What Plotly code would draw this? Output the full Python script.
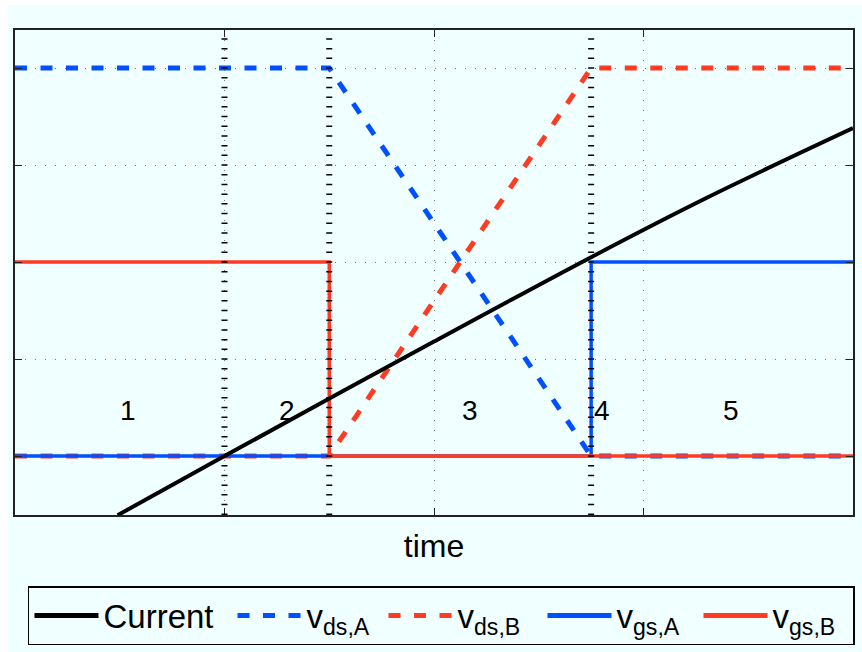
import plotly.graph_objects as go

# Switching waveforms of a half-bridge commutation (arbitrary units)
t_grid = [1.0, 2.0, 3.0]
v_grid = [0, 1, 2, 3, 4]

vds_A_t = [0.0, 1.5, 2.75, 4.0]
vds_A = [4.0, 4.0, 0.0, 0.0]

vds_B_t = [0.0, 1.5, 2.75, 4.0]
vds_B = [0.0, 0.0, 4.0, 4.0]

vgs_A_t = [0.0, 2.75, 2.75, 4.0]
vgs_A = [0.0, 0.0, 2.0, 2.0]

vgs_B_t = [0.0, 1.5, 1.5, 4.0]
vgs_B = [2.0, 2.0, 0.0, 0.0]

current_t = [0.49, 1.0, 2.0, 2.75, 3.3, 4.0]
current = [-0.61, 0.0, 1.18, 2.05, 2.66, 3.38]

# interval boundaries and interval numbers
boundaries = [1.0, 1.5, 2.75]
region_labels = ["1", "2", "3", "4", "5"]
region_x = [0.54, 1.30, 2.17, 2.80, 3.42]
region_y = 0.47

BLUE = "#0050FF"
RED = "#FF3B22"
BG = "#F0FFFF"
FONT = "Liberation Sans, Arial, sans-serif"

fig = go.Figure()

fig.add_trace(go.Scatter(
    x=vds_A_t, y=vds_A, mode="lines", name="v<sub>ds,A</sub>",
    line=dict(color=BLUE, width=5, dash="12px,13.5px"),
    legendrank=2, legendwidth=72))
fig.add_trace(go.Scatter(
    x=vds_B_t, y=vds_B, mode="lines", name="v<sub>ds,B</sub>",
    line=dict(color=RED, width=5, dash="12px,13.5px"),
    legendrank=3, legendwidth=80))
fig.add_trace(go.Scatter(
    x=vgs_A_t, y=vgs_A, mode="lines", name="v<sub>gs,A</sub>",
    line=dict(color=BLUE, width=3.5),
    legendrank=4, legendwidth=77))
fig.add_trace(go.Scatter(
    x=vgs_B_t, y=vgs_B, mode="lines", name="v<sub>gs,B</sub>",
    line=dict(color=RED, width=3.5),
    legendrank=5, legendwidth=76))
fig.add_trace(go.Scatter(
    x=current_t, y=current, mode="lines", name="Current",
    line=dict(color="black", width=4, shape="spline", smoothing=1.0),
    legendrank=1, legendwidth=124))

# dashed vertical separators between the intervals
for b in boundaries:
    fig.add_shape(type="line", xref="x", yref="paper", x0=b, x1=b, y0=0, y1=1,
                  line=dict(color="black", width=6, dash="1.5px,8.2px"),
                  layer="above")

for lab, xl in zip(region_labels, region_x):
    fig.add_annotation(x=xl, y=region_y, text=lab, showarrow=False,
                       font=dict(size=28, color="black", family=FONT))

# thin white strip at the top and left edge of the figure
fig.add_shape(type="rect", xref="paper", yref="paper",
              x0=-0.02, x1=1.02, y0=1.0515, y1=1.07,
              line=dict(width=0), fillcolor="white", layer="above")
fig.add_shape(type="rect", xref="paper", yref="paper",
              x0=-0.02, x1=-0.0095, y0=-0.3, y1=1.07,
              line=dict(width=0), fillcolor="white", layer="above")

axis_common = dict(
    showticklabels=False, ticks="inside", ticklen=7, tickwidth=1,
    tickcolor="#222222", showline=True, linecolor="#222222", linewidth=1.5,
    mirror="ticks", showgrid=True, gridcolor="#777777", gridwidth=1,
    griddash="1px,9px", zeroline=False,
)

fig.update_xaxes(range=[0, 4], tickvals=t_grid,
                 title=dict(text="time", font=dict(size=32, color="black", family=FONT),
                            standoff=19),
                 **axis_common)
fig.update_yaxes(range=[-0.608, 4.392], tickvals=v_grid, **axis_common)

fig.update_layout(
    width=862, height=652,
    margin=dict(l=15, r=7, t=30, b=137),
    paper_bgcolor=BG, plot_bgcolor=BG,
    font=dict(family=FONT, size=30, color="black"),
    showlegend=True,
    legend=dict(
        orientation="h", x=0.0155, xanchor="left", y=-0.1464, yanchor="top",
        bgcolor=BG, bordercolor="black", borderwidth=1.5,
        font=dict(size=33, family=FONT, color="black"),
        itemwidth=64, itemsizing="constant",
    ),
)

fig.write_html("out.html")
